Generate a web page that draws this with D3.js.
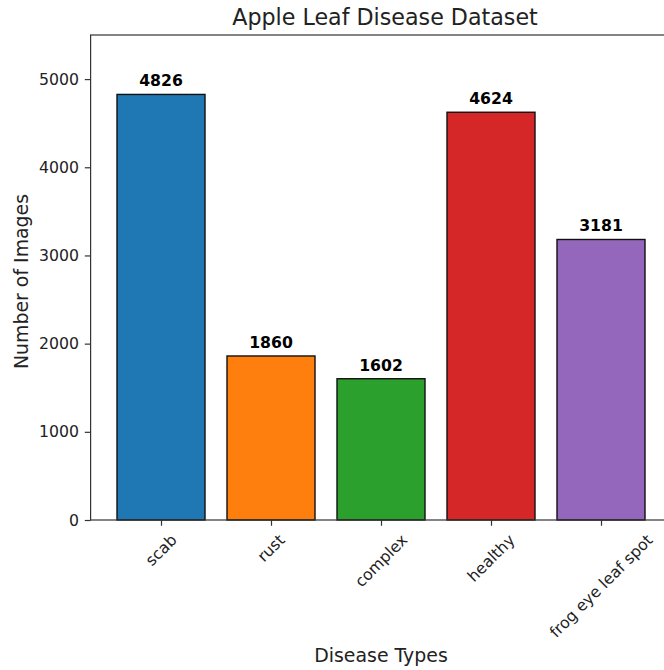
<!DOCTYPE html>
<html>
<head>
<meta charset="utf-8">
<script src="https://cdn.jsdelivr.net/npm/d3@7"></script>
<style>
  html, body { margin: 0; padding: 0; background: #fff; overflow: hidden; }
  svg { display: block; font-family: "DejaVu Sans", sans-serif; }
</style>
</head>
<body>
<svg id="chart" width="664" height="670"></svg>
<script>
const categories = ["scab", "rust", "complex", "healthy", "frog eye leaf spot"];
const counts = [4826, 1860, 1602, 4624, 3181];
const colors = ["#1f77b4", "#ff7f0e", "#2ca02c", "#d62728", "#9467bd"];
const yTicks = [0, 1000, 2000, 3000, 4000, 5000];

const svg = d3.select("#chart");
const margin = { left: 90.6, right: 671.4, top: 35, bottom: 520 };
const tickFont = 15.7, labelFont = 18.9, titleFont = 22.2;
const tickLen = 5.8, tickPad = 5.8;

// categorical positions as a linear scale (bar width 0.8, 5% side margins)
const x = d3.scaleLinear().domain([-0.64, categories.length - 1 + 0.64]).range([margin.left, margin.right]);
const y = d3.scaleLinear().domain([0, 5500]).range([margin.bottom, margin.top]);
const barW = 0.8;

// bars
svg.append("g").selectAll("rect").data(counts).join("rect")
  .attr("x", (d, i) => x(i - barW / 2))
  .attr("width", (d, i) => x(i + barW / 2) - x(i - barW / 2))
  .attr("y", d => y(d))
  .attr("height", d => y(0) - y(d))
  .attr("fill", (d, i) => colors[i])
  .attr("stroke", "#111")
  .attr("stroke-width", 1.4);

// value labels
svg.append("g").selectAll("text").data(counts).join("text")
  .attr("x", (d, i) => x(i))
  .attr("y", d => y(d) - 8)
  .attr("text-anchor", "middle")
  .attr("font-size", tickFont)
  .attr("font-weight", "bold")
  .attr("fill", "#000")
  .text(d => d);

// y axis
const yAxis = svg.append("g")
  .attr("transform", `translate(${margin.left},0)`)
  .call(d3.axisLeft(y).tickValues(yTicks).tickSize(tickLen).tickPadding(tickPad).tickFormat(d3.format("d")));
yAxis.select(".domain").remove();
yAxis.selectAll("text").attr("font-size", tickFont).attr("fill", "#222").attr("font-family", "DejaVu Sans");
yAxis.selectAll("line").attr("stroke", "#333").attr("stroke-width", 1.2);

// x ticks
const xAxis = svg.append("g")
  .attr("transform", `translate(0,${margin.bottom})`)
  .call(d3.axisBottom(x).tickValues(d3.range(categories.length)).tickSize(tickLen).tickFormat(""));
xAxis.select(".domain").remove();
xAxis.selectAll("line").attr("stroke", "#333").attr("stroke-width", 1.2);

// rotated category labels, centred under each tick
const labelG = svg.append("g");
categories.forEach((c, i) => {
  const t = labelG.append("text")
    .attr("font-size", tickFont)
    .attr("fill", "#222")
    .attr("text-anchor", "middle")
    .attr("dominant-baseline", "central")
    .text(c);
  const w = t.node().getComputedTextLength();
  const h = tickFont * 1.0;
  const bh = (w + h) / Math.SQRT2;
  const cx = x(i), cy = margin.bottom + tickLen + tickPad + bh / 2;
  t.attr("transform", `translate(${cx},${cy}) rotate(-45)`);
});

// frame
svg.append("rect")
  .attr("x", margin.left).attr("y", margin.top)
  .attr("width", margin.right - margin.left).attr("height", margin.bottom - margin.top)
  .attr("fill", "none").attr("stroke", "#333").attr("stroke-width", 1.2);

// titles
svg.append("text")
  .attr("x", (margin.left + margin.right) / 2 + 4).attr("y", 25)
  .attr("text-anchor", "middle").attr("font-size", titleFont).attr("fill", "#222")
  .text("Apple Leaf Disease Dataset");

svg.append("text")
  .attr("x", (margin.left + margin.right) / 2).attr("y", 662)
  .attr("text-anchor", "middle").attr("font-size", labelFont).attr("fill", "#222")
  .text("Disease Types");

svg.append("text")
  .attr("transform", `translate(28,${(margin.top + margin.bottom) / 2 + 4}) rotate(-90)`)
  .attr("text-anchor", "middle").attr("font-size", labelFont).attr("fill", "#222")
  .text("Number of Images");
</script>
</body>
</html>
